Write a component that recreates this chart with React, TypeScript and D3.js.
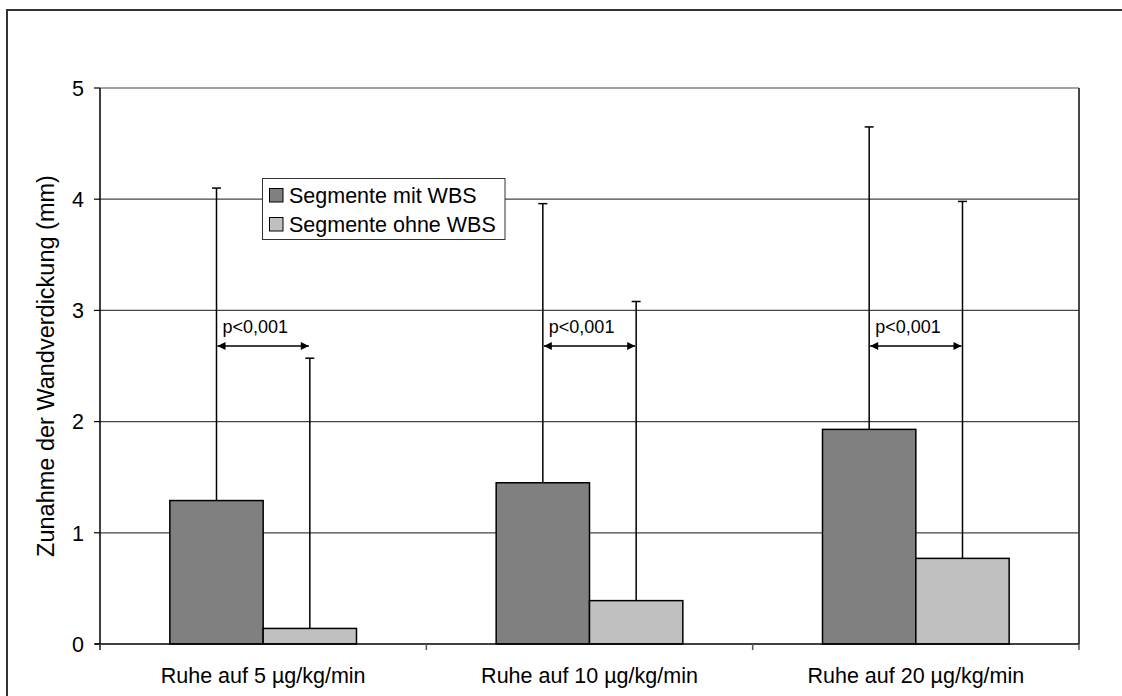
import React from "react";
import * as d3 from "d3";

const categories = ["Ruhe auf 5 µg/kg/min", "Ruhe auf 10 µg/kg/min", "Ruhe auf 20 µg/kg/min"];
const seriesNames = ["Segmente mit WBS", "Segmente ohne WBS"];
const mitWBS = [1.29, 1.45, 1.93];
const ohneWBS = [0.14, 0.39, 0.77];
const mitWBSsd = [2.81, 2.51, 2.72];
const ohneWBSsd = [2.43, 2.69, 3.21];
const pLabels = ["p<0,001", "p<0,001", "p<0,001"];
const pArrowLevel = 2.68;
const yTicks = [0, 1, 2, 3, 4, 5];
const yTitle = "Zunahme der Wandverdickung (mm)";

const colors = ["#808080", "#c0c0c0"];
const FONT = "'Liberation Sans', Arial, sans-serif";

export default function App() {
  const left = 100, right = 1079, top = 88, bottom = 644;
  const x = d3.scaleBand<string>().domain(categories).range([left, right]).paddingInner(0).paddingOuter(0);
  const y = d3.scaleLinear().domain([0, 5]).range([bottom, top]);
  const bw = x.bandwidth() * 0.286;
  const series = [mitWBS, ohneWBS];
  const sds = [mitWBSsd, ohneWBSsd];

  const barX = (ci: number, si: number) => {
    const c = (x(categories[ci]) as number) + x.bandwidth() / 2;
    return si === 0 ? c - bw : c;
  };

  const boundaries = [left, ...categories.map((c) => (x(c) as number) + x.bandwidth())];

  return (
    <div style={{ position: "absolute", left: 0, top: 0 }}>
      <svg width={1122} height={696} style={{ display: "block", fontFamily: FONT }}>
        <defs>
          <marker id="ah" viewBox="0 0 10 10" refX="10" refY="5" markerWidth="9" markerHeight="8" markerUnits="userSpaceOnUse" orient="auto-start-reverse">
            <path d="M0,0 L10,5 L0,10 z" fill="#000" />
          </marker>
        </defs>
        <rect x={0} y={0} width={1122} height={696} fill="#fff" />
        <rect x={7} y={10} width={1300} height={900} fill="none" stroke="#333" strokeWidth={2} />
        {yTicks.filter((t) => t > 0).map((t) => (
          <line key={t} x1={left} x2={right} y1={y(t)} y2={y(t)} stroke="#444" strokeWidth={1.2} />
        ))}
        <line x1={right} x2={right} y1={top} y2={bottom} stroke="#333" strokeWidth={1.8} />
        {series.map((s, si) =>
          s.map((v, ci) => (
            <rect key={`${si}-${ci}`} x={barX(ci, si)} y={y(v)} width={bw} height={y(0) - y(v)} fill={colors[si]} stroke="#000" strokeWidth={1.5} />
          ))
        )}
        {series.map((s, si) =>
          s.map((v, ci) => {
            const cx = barX(ci, si) + bw / 2;
            const t = v + sds[si][ci];
            return (
              <g key={`e${si}-${ci}`} stroke="#000" strokeWidth={1.5}>
                <line x1={cx} x2={cx} y1={y(v)} y2={y(t)} />
                <line x1={cx - 4.5} x2={cx + 4.5} y1={y(t)} y2={y(t)} />
              </g>
            );
          })
        )}
        {categories.map((c, ci) => {
          const x1 = barX(ci, 0) + bw / 2;
          const x2 = barX(ci, 1) + bw / 2;
          const yy = y(pArrowLevel);
          return (
            <g key={`p${ci}`}>
              <line x1={x1 + 1} x2={x2 - 1} y1={yy} y2={yy} stroke="#000" strokeWidth={1.5} markerStart="url(#ah)" markerEnd="url(#ah)" />
              <text x={x1 + 6} y={yy - 13} fontSize={18} fill="#000">{pLabels[ci]}</text>
            </g>
          );
        })}
        <line x1={left} x2={left} y1={top} y2={bottom + 6} stroke="#000" strokeWidth={1.5} />
        <line x1={left - 5} x2={right} y1={bottom} y2={bottom} stroke="#000" strokeWidth={1.5} />
        {yTicks.map((t) => (
          <g key={`yt${t}`}>
            <line x1={left - 6} x2={left} y1={y(t)} y2={y(t)} stroke="#000" strokeWidth={1.2} />
            <text x={left - 16} y={y(t)} dy="0.36em" textAnchor="end" fontSize={21.5} fill="#000">{t}</text>
          </g>
        ))}
        {boundaries.map((b, i) => (
          <line key={`xt${i}`} x1={b} x2={b} y1={bottom} y2={bottom + 6} stroke="#555" strokeWidth={1.5} />
        ))}
        {categories.map((c) => (
          <text key={c} x={(x(c) as number) + x.bandwidth() / 2} y={683} textAnchor="middle" fontSize={21.5} fill="#000">{c}</text>
        ))}
        <text transform={`translate(${46},${(top + bottom) / 2}) rotate(-90)`} textAnchor="middle" dy="0.35em" fontSize={23.5} fill="#000">{yTitle}</text>
        <g>
          <rect x={262.5} y={178.5} width={242.5} height={61} fill="#fff" stroke="#333" strokeWidth={1} />
          {seriesNames.map((n, i) => (
            <g key={n}>
              <rect x={269.5} y={188.5 + i * 29} width={13.5} height={13.5} fill={colors[i]} stroke="#000" strokeWidth={1} />
              <text x={289} y={203 + i * 29} fontSize={21.5} fill="#000">{n}</text>
            </g>
          ))}
        </g>
      </svg>
    </div>
  );
}
